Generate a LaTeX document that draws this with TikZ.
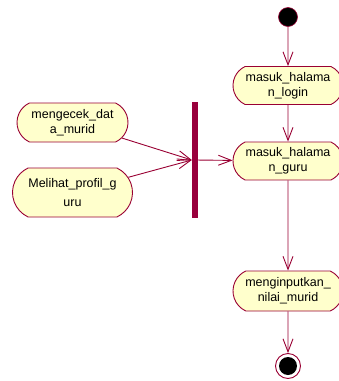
\documentclass[tikz,border=0pt]{standalone}
\usepackage{fontspec}
\setmainfont{Liberation Sans}
\usetikzlibrary{shapes.misc,arrows.meta}
\definecolor{maroon}{HTML}{990033}
\definecolor{barcol}{HTML}{99003D}
\definecolor{actfill}{HTML}{FFFFCC}
\tikzset{
  act/.style={rounded rectangle, rounded rectangle arc length=130, draw=maroon, line width=0.9pt,
    fill=actfill, inner sep=0pt, align=center, font=\fontsize{12.5}{15}\selectfont,
    minimum width=110pt, minimum height=38pt},
  flow/.style={draw=maroon, line width=0.9pt, -{Straight Barb[length=13pt,width=10pt]}},
}
\begin{document}
\begin{tikzpicture}[x=1pt,y=-1pt]
\useasboundingbox (0,0) rectangle (339,381);
\begin{scope}
\clip (0,0) rectangle (339,381);
\node[circle, fill=black, draw=maroon, line width=0.6pt, minimum size=19pt, inner sep=0pt] (start) at (288,17) {};
\node[act] (login) at (288,85.5) {masuk\_halama\\n\_login};
\node[act] (guru) at (288,161) {masuk\_halama\\n\_guru};
\node[act, minimum height=40pt] (input) at (288,291) {menginputkan\_\\nilai\_murid};
\node[circle, draw=maroon, fill=white, line width=0.9pt, minimum size=25pt, inner sep=0pt] (end) at (288,366) {};
\node[circle, fill=black, minimum size=18pt, inner sep=0pt] (endin) at (end.center) {};
\node[act, minimum width=111pt, minimum height=39pt] (mengecek) at (72.5,122.5) {mengecek\_dat\\a\_murid};
\node[act, minimum width=120pt, minimum height=49pt, font=\fontsize{12.5}{19}\selectfont] (melihat) at (72.5,192.5) {Melihat\_profil\_g\\uru};
\node[rectangle, fill=barcol, inner sep=0pt, minimum width=6pt, minimum height=116pt] (bar) at (195,160) {};
\draw[flow] (start) -- (login);
\draw[flow] (login) -- (guru);
\draw[flow] (guru) -- (input);
\draw[flow] (input) -- (end);
\draw[flow] (mengecek) -- (bar.west);
\draw[flow] (melihat) -- (bar.west);
\draw[flow] (bar) -- (guru);
\end{scope}
\end{tikzpicture}
\end{document}
